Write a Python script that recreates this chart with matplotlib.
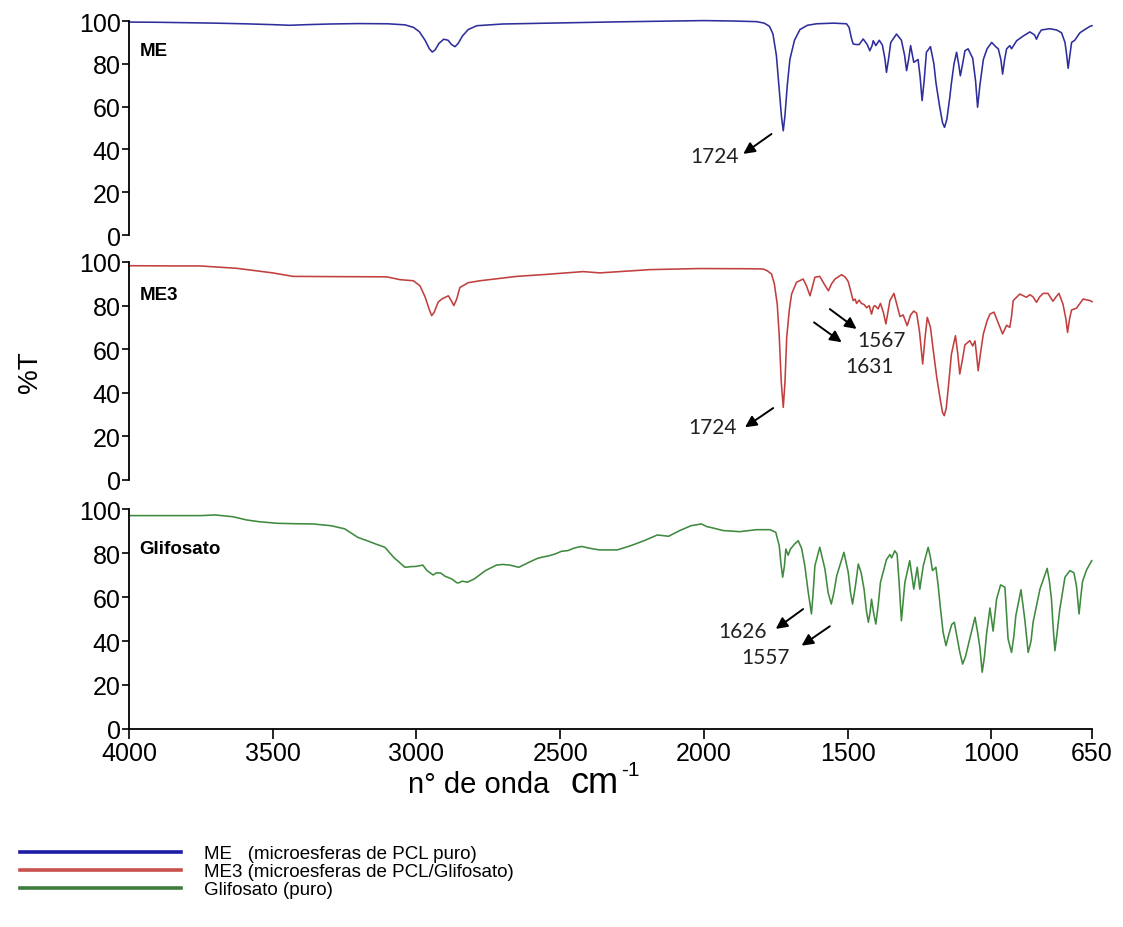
import matplotlib
matplotlib.use("Agg")
import matplotlib.pyplot as plt
from matplotlib.lines import Line2D

plt.rcParams['font.family'] = ['Liberation Sans', 'DejaVu Sans']
plt.rcParams['mathtext.default'] = 'regular'

# --- espectros FTIR: numero de onda (cm-1) y %T ---
me_wn = [4000, 3900, 3800, 3700, 3600, 3500, 3440, 3380, 3300, 3200, 3100, 3040, 3010, 2990,
         2970, 2955, 2945, 2935, 2922, 2905, 2890, 2878, 2866, 2855, 2840, 2820, 2790, 2700,
         2500, 2300, 2100, 2000, 1900, 1817, 1790, 1772, 1760, 1748, 1738, 1730, 1724, 1718,
         1710, 1701, 1685, 1666, 1640, 1608, 1550, 1504, 1495, 1487, 1481, 1470, 1460, 1446,
         1432, 1423, 1415, 1411, 1402, 1390, 1379, 1370, 1365, 1358, 1350, 1330, 1313, 1302,
         1295, 1288, 1281, 1270, 1255, 1248, 1241, 1234, 1226, 1212, 1200, 1193, 1180, 1170,
         1163, 1155, 1145, 1139, 1130, 1121, 1114, 1108, 1100, 1092, 1081, 1065, 1055, 1048,
         1040, 1028, 1015, 999, 985, 976, 967, 961, 954, 947, 936, 930, 912, 889, 866, 850,
         843, 835, 826, 797, 773, 756, 744, 738, 733, 727, 721, 710, 692, 675, 657, 650]
me_t = [99.5, 99.4, 99.2, 99.0, 98.7, 98.3, 98.0, 98.3, 98.6, 98.8, 98.7, 98.2, 97.0, 95.0,
        91.0, 87.0, 85.5, 86.5, 89.5, 91.5, 91.0, 89.0, 88.0, 89.5, 93.0, 96.0, 97.8, 98.6,
        99.1, 99.6, 100.0, 100.2, 100.0, 99.7, 99.0, 97.5, 94.0, 84.0, 68.0, 55.0, 48.7, 56.0,
        70.0, 82.0, 91.0, 96.0, 98.0, 98.7, 99.0, 98.7, 97.0, 92.0, 89.3, 89.0, 89.0, 91.6,
        89.0, 86.1, 88.5, 90.8, 88.5, 91.0, 88.7, 82.0, 76.0, 82.0, 90.0, 93.9, 91.0, 84.0,
        76.8, 82.0, 88.5, 80.7, 82.0, 74.0, 62.8, 72.0, 85.4, 88.0, 80.0, 71.3, 60.0, 52.5,
        50.3, 54.0, 64.0, 71.0, 80.0, 85.4, 80.0, 74.4, 80.0, 86.1, 87.0, 82.6, 72.0, 59.7,
        70.0, 82.0, 87.0, 90.0, 88.0, 87.0, 82.0, 75.2, 82.0, 87.0, 88.5, 87.0, 90.8, 93.0, 94.9, 93.5,
        91.5, 94.0, 95.8, 96.4, 95.8, 94.5, 90.0, 84.0, 77.9, 84.0, 90.0, 91.0, 94.5, 96.0, 97.5, 97.8]

me3_wn = [4000, 3850, 3753, 3625, 3500, 3429, 3300, 3104, 3057, 3011, 2988, 2970, 2955, 2947,
          2938, 2925, 2912, 2889, 2878, 2870, 2860, 2849, 2820, 2779, 2651, 2550, 2478, 2420,
          2362, 2188, 2014, 1840, 1794, 1780, 1765, 1755, 1745, 1738, 1731, 1724, 1718, 1712,
          1703, 1695, 1678, 1655, 1643, 1631, 1622, 1614, 1597, 1582, 1567, 1556, 1544, 1521,
          1508, 1498, 1488, 1481, 1474, 1469, 1460, 1452, 1443, 1434, 1425, 1417, 1410, 1405,
          1394, 1386, 1376, 1367, 1360, 1353, 1339, 1328, 1318, 1307, 1293, 1281, 1270, 1260,
          1250, 1239, 1231, 1223, 1212, 1202, 1190, 1178, 1170, 1164, 1157, 1148, 1139, 1125,
          1117, 1110, 1101, 1092, 1075, 1065, 1057, 1052, 1046, 1038, 1028, 1015, 1005, 991,
          976, 961, 947, 936, 930, 924, 901, 878, 866, 855, 843, 832, 820, 803, 786, 775, 765,
          751, 741, 735, 728, 721, 704, 681, 665, 657, 650]
me3_t = [98.3, 98.2, 98.2, 97.1, 95.0, 93.4, 93.3, 93.2, 91.9, 91.4, 89.1, 84.0, 78.0, 75.4,
         77.0, 81.5, 83.0, 84.5, 82.0, 80.0, 83.0, 88.3, 90.5, 91.4, 93.4, 94.3, 95.0, 95.6,
         95.0, 96.5, 97.0, 96.9, 96.8, 96.0, 94.5, 90.0, 80.7, 66.0, 45.0, 33.3, 45.0, 65.5,
         78.0, 85.3, 90.7, 92.2, 89.0, 84.5, 89.0, 93.0, 93.4, 90.0, 86.8, 90.0, 92.2, 94.2,
         93.0, 91.0, 86.0, 82.3, 83.0, 81.0, 82.5, 81.0, 80.5, 79.0, 80.0, 76.1, 79.5, 80.0,
         78.5, 81.0, 77.0, 71.6, 77.0, 82.3, 85.6, 80.0, 75.0, 75.7, 70.8, 75.7, 77.5, 76.5,
         68.0, 53.2, 65.0, 74.6, 70.0, 59.3, 47.0, 37.0, 31.0, 29.5, 33.0, 45.0, 57.8, 66.2,
         58.0, 48.6, 55.0, 62.0, 63.9, 61.5, 63.8, 58.0, 50.1, 58.0, 67.0, 73.0, 76.1, 77.0,
         72.0, 67.0, 71.0, 70.0, 75.0, 82.3, 85.3, 83.8, 85.0, 84.0, 81.5, 84.0, 85.6, 85.6, 82.0, 84.0, 85.6,
         80.7, 74.0, 67.7, 74.0, 78.0, 78.8, 83.0, 82.5, 82.3, 81.8]

gli_wn = [4000, 3850, 3748, 3701, 3639, 3590, 3546, 3484, 3420, 3359, 3297, 3250, 3204, 3170,
          3142, 3110, 3079, 3040, 3020, 3002, 2978, 2963, 2942, 2930, 2916, 2900, 2877, 2860,
          2854, 2840, 2823, 2799, 2760, 2722, 2700, 2675, 2644, 2605, 2580, 2566, 2540, 2519,
          2495, 2473, 2450, 2426, 2395, 2364, 2302, 2255, 2208, 2162, 2123, 2084, 2045, 2009,
          1990, 1979, 1933, 1875, 1817, 1770, 1750, 1738, 1732, 1726, 1720, 1715, 1707, 1699,
          1685, 1672, 1660, 1649, 1638, 1626, 1620, 1614, 1597, 1579, 1568, 1557, 1548, 1538,
          1513, 1498, 1490, 1483, 1473, 1463, 1453, 1443, 1435, 1428, 1422, 1417, 1410, 1402,
          1394, 1386, 1365, 1353, 1347, 1336, 1328, 1321, 1313, 1307, 1301, 1284, 1270, 1258,
          1249, 1237, 1220, 1212, 1205, 1193, 1185, 1177, 1168, 1158, 1148, 1138, 1129, 1120,
          1110, 1100, 1090, 1075, 1057, 1048, 1040, 1032, 1024, 1017, 1005, 994, 982, 968, 953,
          942, 930, 922, 915, 897, 884, 872, 862, 855, 831, 806, 798, 791, 785, 779, 772, 762,
          744, 727, 713, 704, 695, 689, 683, 669, 651]
gli_t = [97.0, 97.0, 97.0, 97.3, 96.5, 95.0, 94.2, 93.5, 93.3, 93.2, 92.4, 91.0, 87.1, 85.5,
         84.1, 82.6, 78.0, 73.5, 73.8, 73.9, 74.5, 72.0, 70.0, 71.0, 70.9, 69.4, 68.2, 66.5,
         66.4, 67.2, 66.7, 68.2, 72.0, 74.5, 74.8, 74.5, 73.5, 76.0, 77.5, 78.0, 78.7, 79.5,
         80.8, 81.1, 82.3, 83.0, 82.1, 81.4, 81.4, 83.3, 85.6, 88.2, 87.6, 90.2, 92.4, 93.2,
         92.0, 91.7, 90.2, 89.7, 90.6, 90.6, 89.4, 83.3, 75.0, 69.0, 74.0, 81.8, 79.0, 81.8,
         84.0, 85.6, 82.0, 74.2, 63.0, 52.3, 62.0, 74.2, 82.6, 72.7, 62.0, 56.8, 62.0, 69.7,
         80.3, 71.2, 62.0, 56.8, 65.0, 75.0, 71.0, 63.6, 54.0, 48.5, 53.0, 59.0, 53.0, 47.7,
         56.0, 66.6, 77.0, 79.3, 77.8, 81.0, 79.5, 66.6, 49.2, 58.0, 66.6, 76.5, 63.6, 73.5,
         63.6, 74.2, 82.6, 78.0, 72.0, 73.5, 65.0, 54.6, 44.0, 37.9, 43.0, 47.5, 48.5, 42.0,
         35.0, 29.5, 33.0, 41.0, 50.8, 44.0, 37.0, 25.8, 33.0, 43.0, 55.0, 44.5, 59.0, 65.5, 64.5,
         41.0, 34.8, 42.0, 51.5, 63.3, 50.0, 34.8, 40.0, 48.5, 63.6, 73.0, 67.0, 59.0, 46.0, 35.6, 43.0, 54.5,
         69.0, 72.0, 71.0, 65.0, 52.3, 60.0, 67.0, 72.3, 76.5]

names = ['ME', 'ME3', 'Glifosato']
legend_labels = ['ME   (microesferas de PCL puro)',
                 'ME3 (microesferas de PCL/Glifosato)',
                 'Glifosato (puro)']
line_colors = ['#2e2e9c', '#c23f3f', '#3f8a3f']
legend_colors = ['#1c1ca8', '#c9504c', '#3d7d3d']
x_ticks = [4000, 3500, 3000, 2500, 2000, 1500, 1000, 650]
y_ticks = [0, 20, 40, 60, 80, 100]

# (texto, punta de flecha, cola de flecha, posicion del texto, alineacion)
marcas = [
    [('1724', (1863, 37.9), (1765, 47.2), (1880, 37.0), 'right')],
    [('1724', (1857, 24.2), (1759, 33.0), (1885, 24.3), 'right'),
     ('1567', (1469, 69.3), (1562, 78.4), (1465, 64.0), 'left'),
     ('1631', (1521, 63.2), (1617, 72.3), (1510, 52.5), 'left')],
    [('1626', (1750, 45.5), (1655, 54.5), (1781, 44.5), 'right'),
     ('1557', (1660, 37.9), (1562, 46.7), (1701, 32.5), 'right')],
]

fig = plt.figure(figsize=(11.23, 9.28), dpi=100)
W, H = 1123.0, 928.0
left, right = 129 / W, 1092 / W
bandas = [(22, 236), (263, 481), (510, 730)]
datos = [(me_wn, me_t), (me3_wn, me3_t), (gli_wn, gli_t)]

axes = []
for i, (top_px, bot_px) in enumerate(bandas):
    ax = fig.add_axes([left, 1 - bot_px / H, right - left, (bot_px - top_px) / H])
    wn, t = datos[i]
    ax.plot(wn, t, color=line_colors[i], lw=1.15, clip_on=False)
    ax.set_xlim(4000, 650)
    ax.set_ylim(0, 100)
    ax.set_yticks(y_ticks)
    ax.tick_params(axis='y', direction='out', length=5, width=1.2, pad=1, labelsize=18)
    for s in ['top', 'right']:
        ax.spines[s].set_visible(False)
    ax.spines['left'].set_linewidth(1.3)
    if i < 2:
        ax.spines['bottom'].set_visible(False)
        ax.set_xticks([])
    else:
        ax.spines['bottom'].set_linewidth(1.3)
        ax.set_xticks(x_ticks)
        ax.tick_params(axis='x', direction='out', length=7, width=1.2, pad=2, labelsize=18)
    ax.text(0.011, [0.86, 0.85, 0.82][i], names[i], transform=ax.transAxes,
            fontsize=13.5, fontweight='bold', ha='left', va='center')
    for txt, head, tail, pos, ha in marcas[i]:
        ax.annotate('', xy=head, xytext=tail,
                    arrowprops=dict(arrowstyle='-|>', color='black', lw=1.4,
                                    mutation_scale=17, shrinkA=0, shrinkB=0))
        ax.text(pos[0], pos[1], txt, fontsize=15, family=['Lato', 'DejaVu Sans'],
                ha=ha, va='center', color='#222222')
    axes.append(ax)

fig.text(30 / W, 1 - 372 / H, '%T', rotation=90, fontsize=20, ha='center', va='center')
fig.text(408 / W, 1 - 793 / H, 'n° de onda', fontsize=21, ha='left', va='baseline')
fig.text(571 / W, 1 - 793 / H, 'cm', fontsize=26, ha='left', va='baseline')
fig.text(621 / W, 1 - 776 / H, '-1', fontsize=15, ha='left', va='baseline')

handles = [Line2D([], [], color=c, lw=2.6) for c in legend_colors]
fig.legend(handles, legend_labels, loc='upper left', bbox_to_anchor=(20 / W, 1 - 846 / H),
           frameon=False, fontsize=13.5, handlelength=8.6, handletextpad=1.2,
           labelspacing=0.05, borderpad=0, borderaxespad=0)

fig.savefig('out.png', dpi=100)
